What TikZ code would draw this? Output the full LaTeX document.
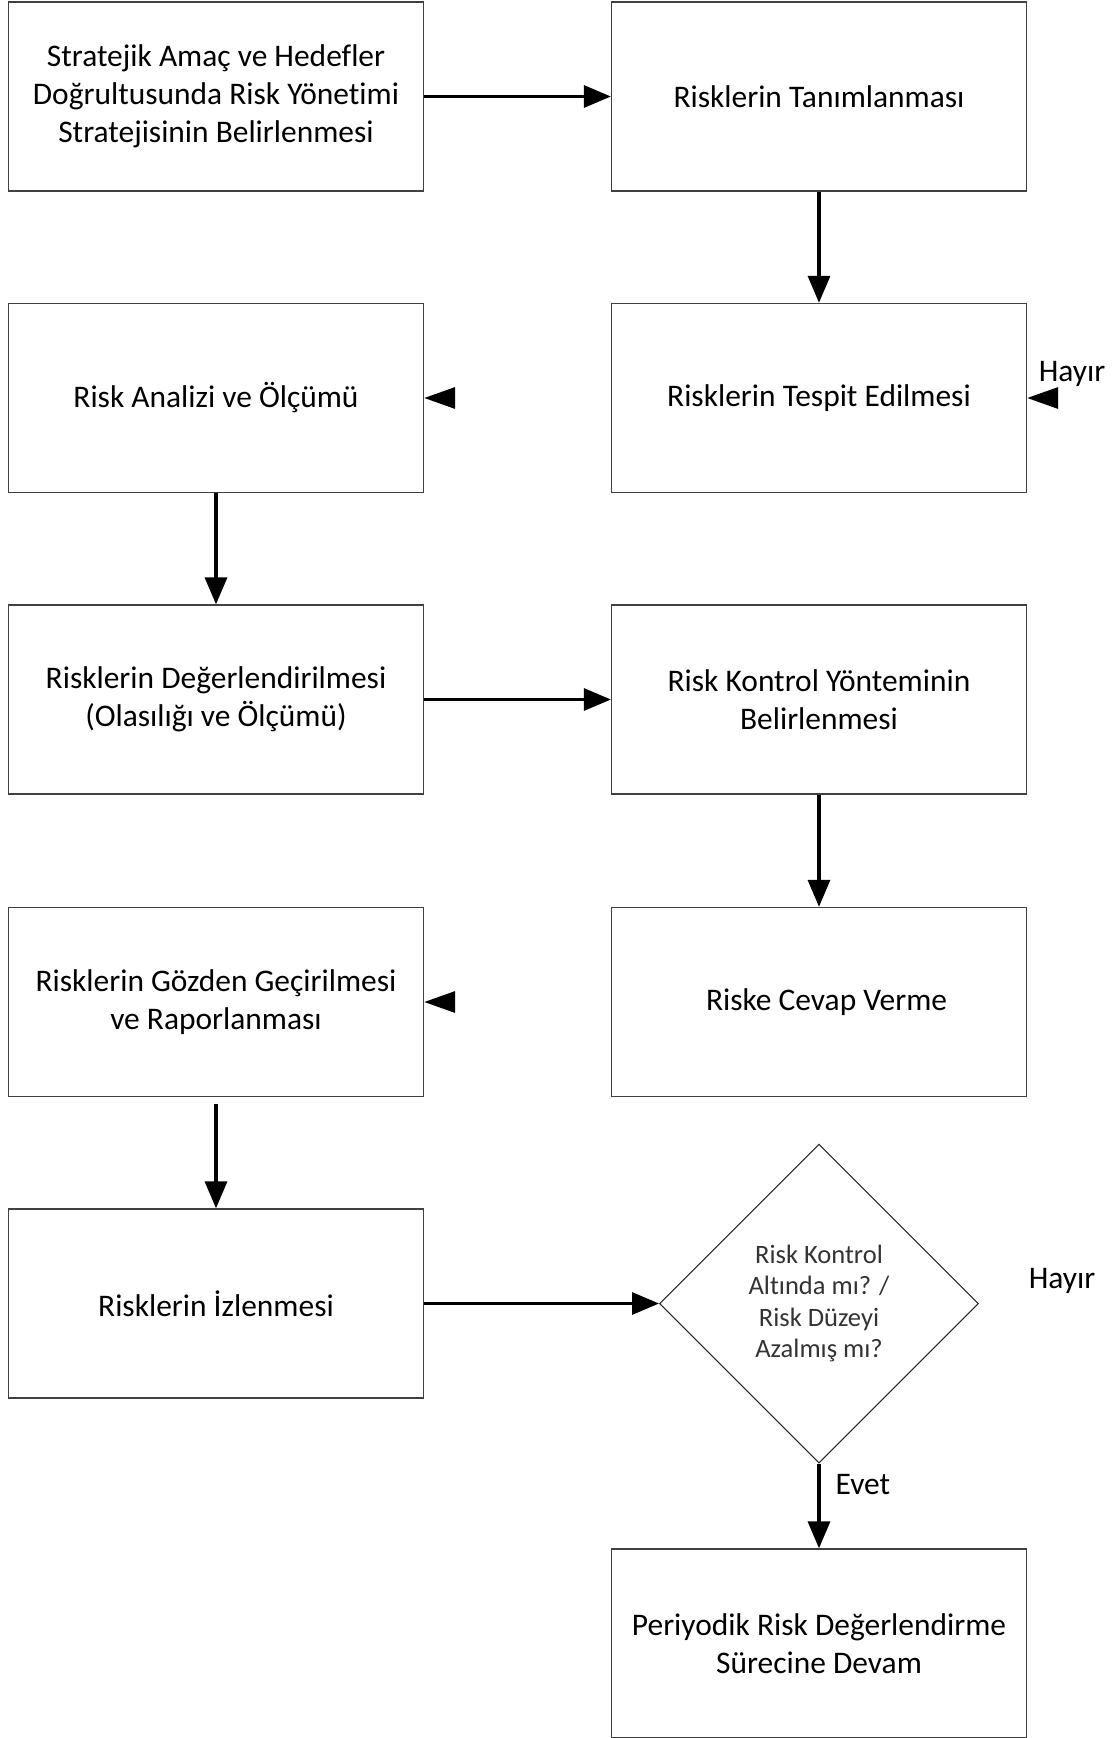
\documentclass[tikz,border=0pt]{standalone}
\usepackage{fontspec}
\setmainfont{Carlito}[Ligatures=NoCommon]
\usepackage{tikz}
\usetikzlibrary{positioning,arrows.meta,shapes.geometric}
\tikzset {
    style A/.style={
        draw=black!75,
        line width=0.8pt,
        rectangle, % Set the shape as a rectangle
        minimum width=8.3cm,
        minimum height=3.78cm,
        align=center,
    },
    style B/.style={
        draw=black!85,
        line width=0.6pt,
        diamond, % Set the shape as a diamond
        minimum width=6.38cm,
        minimum height=6.38cm,
        inner sep=0pt,
        align=center,
        text=black!80,
        font=\fontsize{15.1}{18}\selectfont,
    },
    style C/.style={
        draw=none,
        inner sep=0pt,
    },
    style arrow/.style={
        line width=1.9pt,
        -{Triangle[length=0.54cm,width=0.44cm]},
    },
    style ghost/.style={
        white,
        line width=1.9pt,
        -{Triangle[color=black,length=0.62cm,width=0.42cm]},
    },
}

\begin{document}
\begin{tikzpicture}
[x=0.02cm, y=-0.02cm, font=\fontsize{17.9}{21.5}\selectfont]
\useasboundingbox (0,0) rectangle (1113,1738);

\node[style A] at (216, 96.5) (strateji) {Stratejik Amaç ve Hedefler\\Doğrultusunda Risk Yönetimi\\Stratejisinin Belirlenmesi};
\node[style A] at (819, 96.5) (tanim) {Risklerin Tanımlanması};
\node[style A] at (819, 398) (tespit) {Risklerin Tespit Edilmesi};
\node[style A] at (216, 398) (analiz) {Risk Analizi ve Ölçümü};
\node[style A] at (216, 699.5) (deger) {Risklerin Değerlendirilmesi\\(Olasılığı ve Ölçümü)};
\node[style A] at (819, 699.5) (kontrol) {Risk Kontrol Yönteminin\\Belirlenmesi};
\node[style A] at (819, 1002) (cevap) {\hspace*{0.3cm}Riske Cevap Verme};
\node[style A] at (216, 1002) (gozden) {Risklerin Gözden Geçirilmesi\\ve Raporlanması};
\node[style A] at (216, 1303.5) (izleme) {Risklerin İzlenmesi};
\node[style B] at (819, 1303.5) (karar) {Risk Kontrol\\Altında mı? /\\Risk Düzeyi\\Azalmış mı?};
\node[style A] at (819, 1643.5) (devam) {Periyodik Risk Değerlendirme\\Sürecine Devam};

\coordinate (hayirucu) at (1100, 398);
\node[style C] at (1072, 374) (hayir1) {Hayır};
\node[style C] at (1062, 1281) (hayir2) {Hayır};

\draw[style arrow] (strateji) -- (tanim);
\draw[style arrow] (tanim) -- (tespit);
\draw[style ghost] (tespit) -- (analiz);
\draw[style ghost] (hayirucu) -- (tespit.east);
\draw[style arrow] (analiz) -- (deger);
\draw[style arrow] (deger) -- (kontrol);
\draw[style arrow] (kontrol) -- (cevap);
\draw[style ghost] (cevap) -- (gozden);
\draw[style arrow, shorten <=0.14cm] (gozden) -- (izleme);
\draw[style arrow] (izleme) -- (karar);
\draw[style arrow] (karar) -- node[style C, right=0.3cm, pos=0.25] (evet) {Evet} (devam);
\end{tikzpicture}
\end{document}
